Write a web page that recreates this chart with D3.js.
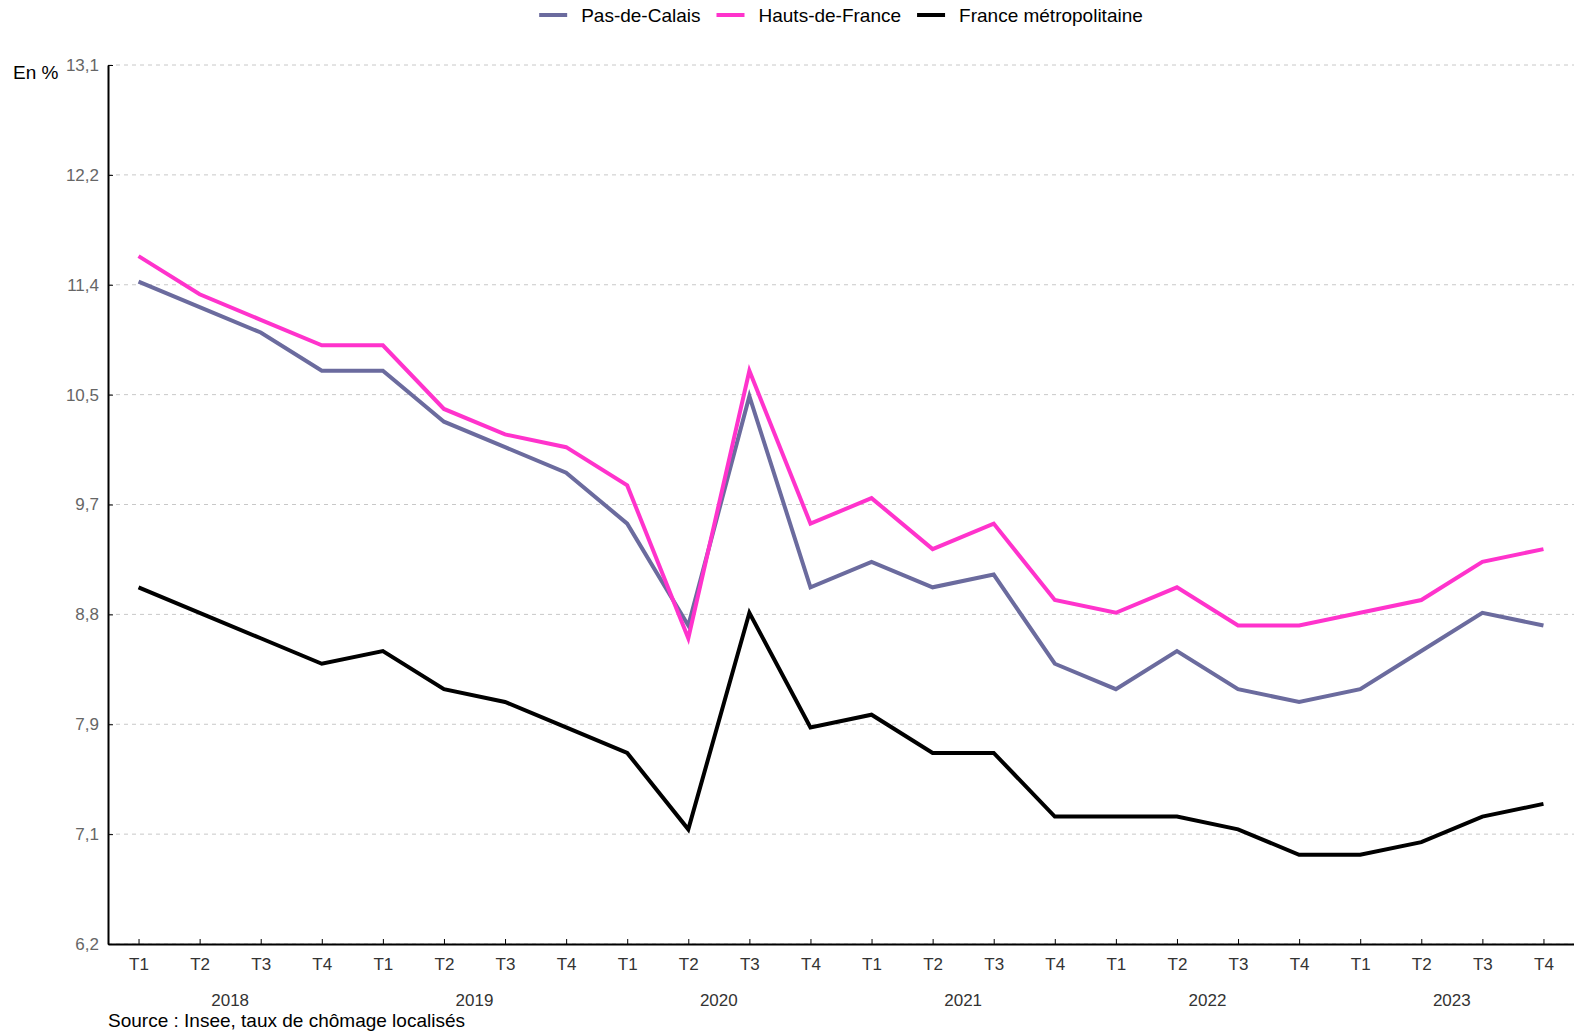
<!DOCTYPE html>
<html>
<head>
<meta charset="utf-8">
<script src="https://cdn.jsdelivr.net/npm/d3@7"></script>
<style>
  body { margin: 0; background: #fff; }
  text { font-family: "Liberation Sans", Arial, sans-serif; }
</style>
</head>
<body>
<svg id="chart"></svg>
<script>
const width = 1574;
const height = 1032;

// Data (taux de chômage, en %)
const years = ["2018", "2019", "2020", "2021", "2022", "2023"];
const quarters = ["T1", "T2", "T3", "T4"];
const pasDeCalais = [11.4, 11.2, 11.0, 10.7, 10.7, 10.3, 10.1, 9.9, 9.5, 8.7, 10.5, 9.0,
                     9.2, 9.0, 9.1, 8.4, 8.2, 8.5, 8.2, 8.1, 8.2, 8.5, 8.8, 8.7];
const hautsDeFrance = [11.6, 11.3, 11.1, 10.9, 10.9, 10.4, 10.2, 10.1, 9.8, 8.6, 10.7, 9.5,
                       9.7, 9.3, 9.5, 8.9, 8.8, 9.0, 8.7, 8.7, 8.8, 8.9, 9.2, 9.3];
const franceMetro = [9.0, 8.8, 8.6, 8.4, 8.5, 8.2, 8.1, 7.9, 7.7, 7.1, 8.8, 7.9,
                     8.0, 7.7, 7.7, 7.2, 7.2, 7.2, 7.1, 6.9, 6.9, 7.0, 7.2, 7.3];
const yTickLabels = ["6,2", "7,1", "7,9", "8,8", "9,7", "10,5", "11,4", "12,2", "13,1"];
const yMin = 6.2, yMax = 13.1;

const seriesNames = ["Pas-de-Calais", "Hauts-de-France", "France métropolitaine"];
const seriesColors = ["#6b6b9e", "#ff33cc", "#000000"];
const seriesData = [pasDeCalais, hautsDeFrance, franceMetro];

const margin = {top: 65, right: 0, bottom: 88, left: 108};

const svg = d3.select("#chart")
    .attr("width", width)
    .attr("height", height);

// periods: one per quarter of each year
const periods = [];
years.forEach(y => quarters.forEach(q => periods.push(y + q)));

const x = d3.scalePoint()
    .domain(periods)
    .range([margin.left, width - margin.right])
    .padding(0.5);

const y = d3.scaleLinear()
    .domain([yMin, yMax])
    .range([height - margin.bottom, margin.top]);

const yTickValues = yTickLabels.map((d, i) => yMin + i * (yMax - yMin) / (yTickLabels.length - 1));

// gridlines
svg.append("g")
    .selectAll("line")
    .data(yTickValues)
    .enter().append("line")
    .attr("x1", margin.left)
    .attr("x2", width - margin.right)
    .attr("y1", d => y(d))
    .attr("y2", d => y(d))
    .attr("stroke", "#c8c8c8")
    .attr("stroke-dasharray", "4,4");

// y axis
const yAxis = svg.append("g")
    .attr("transform", `translate(${margin.left},0)`)
    .call(d3.axisLeft(y)
        .tickValues(yTickValues)
        .tickFormat((d, i) => yTickLabels[i])
        .tickSizeInner(-5)
        .tickSizeOuter(0)
        .tickPadding(9));
yAxis.select(".domain").attr("stroke", "#000").attr("stroke-width", 2);
yAxis.selectAll(".tick line").attr("stroke", "#000");
yAxis.selectAll("text").attr("fill", "#666").style("font-size", "17px");

// x axis
const xAxis = svg.append("g")
    .attr("transform", `translate(0,${height - margin.bottom})`)
    .call(d3.axisBottom(x)
        .tickFormat(d => d.slice(4))
        .tickSizeInner(-5)
        .tickSizeOuter(0)
        .tickPadding(14));
xAxis.select(".domain").attr("stroke", "#000").attr("stroke-width", 2);
xAxis.selectAll(".tick line").attr("stroke", "#000");
xAxis.selectAll("text").attr("fill", "#333").style("font-size", "17px");

// year labels, centred under each group of quarters
svg.append("g")
    .selectAll("text")
    .data(years)
    .enter().append("text")
    .attr("x", d => (x(d + "T2") + x(d + "T3")) / 2)
    .attr("y", 1006)
    .attr("text-anchor", "middle")
    .attr("fill", "#333")
    .style("font-size", "17px")
    .text(d => d);

// lines
const line = d3.line()
    .x((d, i) => x(periods[i]))
    .y(d => y(d));

svg.append("g")
    .selectAll("path")
    .data(seriesData)
    .enter().append("path")
    .attr("fill", "none")
    .attr("stroke", (d, i) => seriesColors[i])
    .attr("stroke-width", 4)
    .attr("stroke-linejoin", "miter")
    .attr("d", line);

// unit label
svg.append("text")
    .attr("x", 13)
    .attr("y", 79)
    .attr("fill", "#000")
    .style("font-size", "19px")
    .text("En %");

// source
svg.append("text")
    .attr("x", 108)
    .attr("y", 1027)
    .attr("fill", "#000")
    .style("font-size", "19px")
    .text("Source : Insee, taux de chômage localisés");

// legend, centred on the plot area
const legend = svg.append("g");
let lx = 0;
seriesNames.forEach((name, i) => {
    const item = legend.append("g").attr("transform", `translate(${lx},0)`);
    item.append("line")
        .attr("x1", 0).attr("x2", 28)
        .attr("y1", 15).attr("y2", 15)
        .attr("stroke", seriesColors[i])
        .attr("stroke-width", 4);
    const t = item.append("text")
        .attr("x", 42)
        .attr("y", 22)
        .attr("fill", "#000")
        .style("font-size", "19px")
        .text(name);
    lx += 42 + t.node().getComputedTextLength() + 16;
});
const legendWidth = lx - 16;
legend.attr("transform", `translate(${(margin.left + width - margin.right) / 2 - legendWidth / 2},0)`);
</script>
</body>
</html>
